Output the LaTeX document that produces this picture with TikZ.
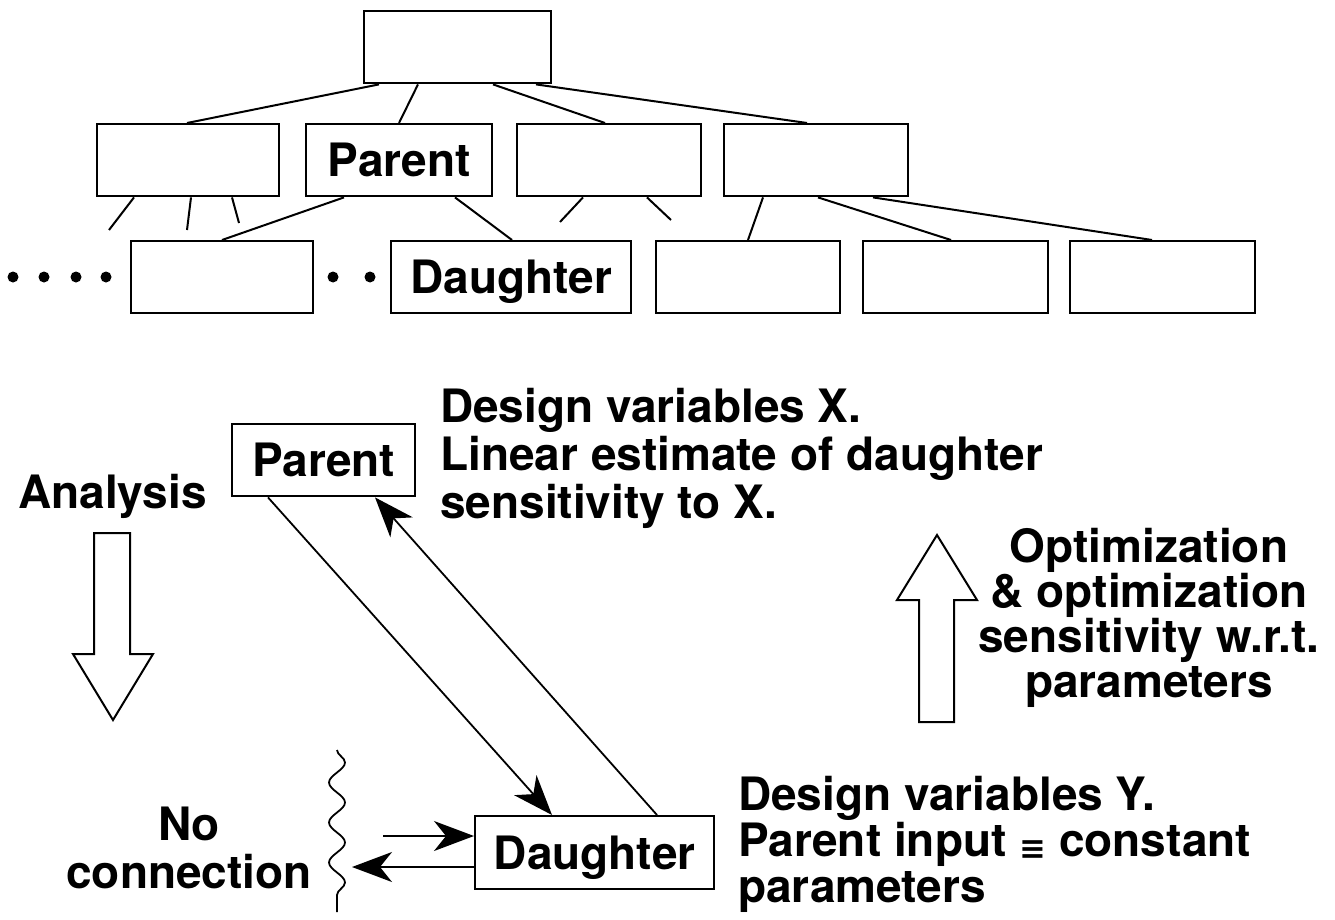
\documentclass[tikz,border=0pt]{standalone}
\usepackage{fontspec}
\setmainfont{TeX Gyre Heros}
\newfontfamily\symf{DejaVu Sans}
\usetikzlibrary{arrows.meta,decorations.pathmorphing,calc}
\newcommand\lblfont{\bfseries\fontsize{46}{48}\selectfont}
\tikzset{
  box/.style={draw, line width=2.4pt, anchor=north west, inner sep=0pt,
    minimum height=72pt, text height=33pt, text depth=0pt, font=\lblfont},
  conn/.style={line width=2pt},
  arr/.style={line width=1.8pt, -{Stealth[length=40pt,width=30pt,inset=12pt]}},
  hollow/.style={draw, line width=2pt, line join=miter},
  lbl/.style={font=\lblfont, inner sep=0pt},
  blob/.style={circle, fill, inner sep=0pt, minimum size=11pt}
}
\begin{document}
\begin{tikzpicture}[x=1pt,y=-1pt]
\useasboundingbox (0,0) rectangle (1335,920);
% ---------- tree ----------
\node[box, minimum width=187pt] (root) at (363,10) {};
\node[box, minimum width=182pt] (b1) at (96,123) {};
\node[box, minimum width=186pt] (par) at (305,123) {Parent};
\node[box, minimum width=184pt] (b3) at (516,123) {};
\node[box, minimum width=184pt] (b4) at (723,123) {};
\node[box, minimum width=182pt] (l1) at (130,240) {};
\node[box, minimum width=240pt] (dau) at (390,240) {Daughter};
\node[box, minimum width=184pt] (l3) at (655,240) {};
\node[box, minimum width=185pt] (l4) at (862,240) {};
\node[box, minimum width=185pt] (l5) at (1069,240) {};
% dots
\node[blob] (e1) at (13,277) {};
\node[blob] (e2) at (44,277) {};
\node[blob] (e3) at (76,277) {};
\node[blob] (e4) at (106,277) {};
\node[blob] (e5) at (333,277) {};
\node[blob] (e6) at (370,277) {};
% root connectors
\draw[conn] ([xshift=16pt]root.south west) -- ([xshift=91pt]b1.north west);
\draw[conn] ([xshift=55pt]root.south west) -- ([xshift=94pt]par.north west);
\draw[conn] ([xshift=130pt]root.south west) -- ([xshift=89pt]b3.north west);
\draw[conn] ([xshift=173pt]root.south west) -- ([xshift=84pt]b4.north west);
% b1 stubs
\coordinate (s1) at (109,230);
\coordinate (s2) at (187,230);
\coordinate (s3) at (239,223);
\draw[conn] ([xshift=38pt]b1.south west) -- (s1);
\draw[conn] ([xshift=95pt]b1.south west) -- (s2);
\draw[conn] ([xshift=136pt]b1.south west) -- (s3);
% parent connectors
\draw[conn] ([xshift=39pt]par.south west) -- ([xshift=92pt]l1.north west);
\draw[conn] ([xshift=150pt]par.south west) -- ([xshift=122pt]dau.north west);
% b3 stubs
\coordinate (s4) at (560,222);
\coordinate (s5) at (671,220);
\draw[conn] ([xshift=67pt]b3.south west) -- (s4);
\draw[conn] ([xshift=131pt]b3.south west) -- (s5);
% b4 connectors
\draw[conn] ([xshift=40pt]b4.south west) -- ([xshift=93pt]l3.north west);
\draw[conn] ([xshift=95pt]b4.south west) -- ([xshift=89pt]l4.north west);
\draw[conn] ([xshift=150pt]b4.south west) -- ([xshift=83pt]l5.north west);
% ---------- lower part ----------
\node[box, minimum width=183pt] (p2) at (231,423) {Parent};
\node[box, minimum width=239pt, minimum height=73pt] (d2) at (474,815) {Daughter};
\draw[arr] ([xshift=37pt]p2.south west) -- ([xshift=78pt]d2.north west);
\draw[arr] ([xshift=183pt]d2.north west) -- ([xshift=144pt]p2.south west);
\coordinate (inS) at (383,836);
\coordinate (outE) at (352,867);
\draw[arr] (inS) -- ([yshift=-21pt]d2.north west);
\draw[arr] ([yshift=-52pt]d2.north west) -- (outE);
\coordinate (wtop) at (337,750);
\coordinate (wbot) at (337,912);
\draw[line width=1.8pt, decorate, decoration={snake, segment length=40pt, amplitude=8pt}] (wtop) -- (wbot);
% hollow arrows
\draw[hollow] (94,533) -- (130,533) -- (130,654) -- (153,654) -- (113,720) -- (73,654) -- (94,654) -- cycle;
\draw[hollow] (919,722) -- (954,722) -- (954,600) -- (977,600) -- (937,535) -- (897,600) -- (919,600) -- cycle;
% labels (anchor = baseline of last line)
\node[lbl, anchor=base west] (analysis) at (18,508) {Analysis};
\node[lbl, anchor=base west, align=left] (tx) at (440,518)
  {Design variables X.\\Linear estimate of daughter\\sensitivity to X.};
\node[lbl, anchor=base west, align=left, font=\bfseries\fontsize{46}{46}\selectfont] (ty) at (738,902)
  {Design variables Y.\\Parent input {\symf\fontsize{32}{32}\selectfont\raisebox{-3pt}{≡}} constant\\parameters};
\node[lbl, anchor=base, align=center, font=\bfseries\fontsize{46}{45}\selectfont] (topt) at (1149,697)
  {Optimization\\\& optimization\\sensitivity w.r.t.\\parameters};
\node[lbl, anchor=base, align=center] (nc) at (189,888) {No\\connection};
\end{tikzpicture}
\end{document}
